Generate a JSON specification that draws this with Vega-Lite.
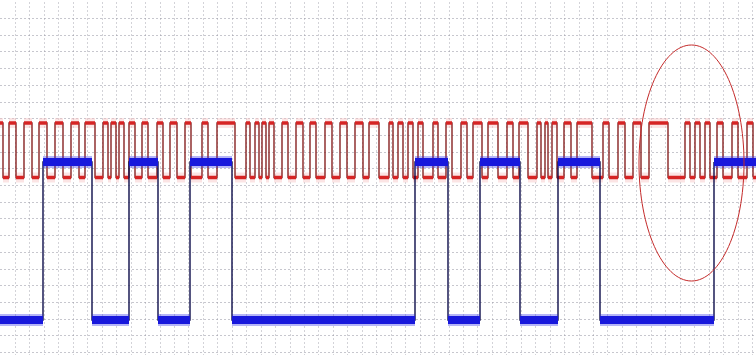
{
  "$schema": "https://vega.github.io/schema/vega-lite/v6.json",
  "width": 756,
  "height": 355,
  "padding": 0,
  "autosize": "none",
  "background": "white",
  "config": {
    "view": {"stroke": null},
    "axisX": {"title": null, "labels": false, "ticks": false, "domain": false, "grid": true, "gridColor": "#a6a6b0", "gridDash": [1, 3], "gridWidth": 1, "minExtent": 0, "maxExtent": 0},
    "axisY": {"title": null, "labels": false, "ticks": false, "domain": false, "grid": true, "gridColor": "#8e8e9c", "gridDash": [1, 3], "gridWidth": 1, "minExtent": 0, "maxExtent": 0}
  },
  "datasets": {
    "red": [
      {"t0": 0, "t1": 3, "v": 123}, {"t0": 3, "t1": 9, "v": 177.5},
      {"t0": 9, "t1": 16, "v": 123}, {"t0": 16, "t1": 24, "v": 177.5},
      {"t0": 24, "t1": 32, "v": 123}, {"t0": 32, "t1": 39, "v": 177.5},
      {"t0": 39, "t1": 47, "v": 123}, {"t0": 47, "t1": 55, "v": 177.5},
      {"t0": 55, "t1": 63, "v": 123}, {"t0": 63, "t1": 71, "v": 177.5},
      {"t0": 71, "t1": 79, "v": 123}, {"t0": 79, "t1": 85, "v": 177.5},
      {"t0": 85, "t1": 95, "v": 123}, {"t0": 95, "t1": 103, "v": 177.5},
      {"t0": 103, "t1": 108, "v": 123}, {"t0": 108, "t1": 111, "v": 177.5},
      {"t0": 111, "t1": 116, "v": 123}, {"t0": 116, "t1": 119, "v": 177.5},
      {"t0": 119, "t1": 124, "v": 123}, {"t0": 124, "t1": 129, "v": 177.5},
      {"t0": 129, "t1": 135, "v": 123}, {"t0": 135, "t1": 142, "v": 177.5},
      {"t0": 142, "t1": 148, "v": 123}, {"t0": 148, "t1": 157, "v": 177.5},
      {"t0": 157, "t1": 163, "v": 123}, {"t0": 163, "t1": 170, "v": 177.5},
      {"t0": 170, "t1": 177, "v": 123}, {"t0": 177, "t1": 185, "v": 177.5},
      {"t0": 185, "t1": 191, "v": 123}, {"t0": 191, "t1": 202, "v": 177.5},
      {"t0": 202, "t1": 208, "v": 123}, {"t0": 208, "t1": 217, "v": 177.5},
      {"t0": 217, "t1": 235, "v": 123}, {"t0": 235, "t1": 246, "v": 177.5},
      {"t0": 246, "t1": 250, "v": 123}, {"t0": 250, "t1": 255, "v": 177.5},
      {"t0": 255, "t1": 259, "v": 123}, {"t0": 259, "t1": 262, "v": 177.5},
      {"t0": 262, "t1": 266, "v": 123}, {"t0": 266, "t1": 269, "v": 177.5},
      {"t0": 269, "t1": 274, "v": 123}, {"t0": 274, "t1": 282, "v": 177.5},
      {"t0": 282, "t1": 288, "v": 123}, {"t0": 288, "t1": 296, "v": 177.5},
      {"t0": 296, "t1": 303, "v": 123}, {"t0": 303, "t1": 310, "v": 177.5},
      {"t0": 310, "t1": 316, "v": 123}, {"t0": 316, "t1": 325, "v": 177.5},
      {"t0": 325, "t1": 332, "v": 123}, {"t0": 332, "t1": 340, "v": 177.5},
      {"t0": 340, "t1": 347, "v": 123}, {"t0": 347, "t1": 355, "v": 177.5},
      {"t0": 355, "t1": 363, "v": 123}, {"t0": 363, "t1": 369, "v": 177.5},
      {"t0": 369, "t1": 379, "v": 123}, {"t0": 379, "t1": 389, "v": 177.5},
      {"t0": 389, "t1": 393, "v": 123}, {"t0": 393, "t1": 398, "v": 177.5},
      {"t0": 398, "t1": 403, "v": 123}, {"t0": 403, "t1": 408, "v": 177.5},
      {"t0": 408, "t1": 413, "v": 123}, {"t0": 413, "t1": 418, "v": 177.5},
      {"t0": 418, "t1": 423, "v": 123}, {"t0": 423, "t1": 433, "v": 177.5},
      {"t0": 433, "t1": 438, "v": 123}, {"t0": 438, "t1": 446, "v": 177.5},
      {"t0": 446, "t1": 452, "v": 123}, {"t0": 452, "t1": 461, "v": 177.5},
      {"t0": 461, "t1": 467, "v": 123}, {"t0": 467, "t1": 473, "v": 177.5},
      {"t0": 473, "t1": 482, "v": 123}, {"t0": 482, "t1": 488, "v": 177.5},
      {"t0": 488, "t1": 498, "v": 123}, {"t0": 498, "t1": 507, "v": 177.5},
      {"t0": 507, "t1": 513, "v": 123}, {"t0": 513, "t1": 519, "v": 177.5},
      {"t0": 519, "t1": 528, "v": 123}, {"t0": 528, "t1": 537, "v": 177.5},
      {"t0": 537, "t1": 541, "v": 123}, {"t0": 541, "t1": 545, "v": 177.5},
      {"t0": 545, "t1": 548, "v": 123}, {"t0": 548, "t1": 552, "v": 177.5},
      {"t0": 552, "t1": 557, "v": 123}, {"t0": 557, "t1": 564, "v": 177.5},
      {"t0": 564, "t1": 571, "v": 123}, {"t0": 571, "t1": 577, "v": 177.5},
      {"t0": 577, "t1": 592, "v": 123}, {"t0": 592, "t1": 603, "v": 177.5},
      {"t0": 603, "t1": 609, "v": 123}, {"t0": 609, "t1": 618, "v": 177.5},
      {"t0": 618, "t1": 625, "v": 123}, {"t0": 625, "t1": 633, "v": 177.5},
      {"t0": 633, "t1": 641, "v": 123}, {"t0": 641, "t1": 649, "v": 177.5},
      {"t0": 649, "t1": 668, "v": 123}, {"t0": 668, "t1": 685, "v": 177.5},
      {"t0": 685, "t1": 690, "v": 123}, {"t0": 690, "t1": 695, "v": 177.5},
      {"t0": 695, "t1": 700, "v": 123}, {"t0": 700, "t1": 705, "v": 177.5},
      {"t0": 705, "t1": 710, "v": 123}, {"t0": 710, "t1": 717, "v": 177.5},
      {"t0": 717, "t1": 723, "v": 123}, {"t0": 723, "t1": 732, "v": 177.5},
      {"t0": 732, "t1": 738, "v": 123}, {"t0": 738, "t1": 747, "v": 177.5},
      {"t0": 747, "t1": 753, "v": 123}, {"t0": 753, "t1": 756, "v": 177.5}
    ],
    "blue": [
      {"t0": 0, "t1": 43, "v": 320}, {"t0": 43, "t1": 92, "v": 162},
      {"t0": 92, "t1": 129, "v": 320}, {"t0": 129, "t1": 158, "v": 162},
      {"t0": 158, "t1": 190, "v": 320}, {"t0": 190, "t1": 232, "v": 162},
      {"t0": 232, "t1": 415, "v": 320}, {"t0": 415, "t1": 448, "v": 162},
      {"t0": 448, "t1": 480, "v": 320}, {"t0": 480, "t1": 520, "v": 162},
      {"t0": 520, "t1": 558, "v": 320}, {"t0": 558, "t1": 600, "v": 162},
      {"t0": 600, "t1": 714, "v": 320}, {"t0": 714, "t1": 756, "v": 162}
    ],
    "ellipse": [
      {"t0": 691.5, "v": 163}
    ]
  },
  "encoding": {
    "x": {"field": "t0", "type": "quantitative", "scale": {"domain": [0, 756], "nice": false, "zero": false},
          "axis": {"values": [15, 29.45, 43.9, 58.35, 72.8, 87.25, 101.7, 116.15, 130.6, 145.05, 159.5, 173.95, 188.4, 202.85, 217.3, 231.75, 246.2, 260.65, 275.1, 289.55, 304, 318.45, 332.9, 347.35, 361.8, 376.25, 390.7, 405.15, 419.6, 434.05, 448.5, 462.95, 477.4, 491.85, 506.3, 520.75, 535.2, 549.65, 564.1, 578.55, 593, 607.45, 621.9, 636.35, 650.8, 665.25, 679.7, 694.15, 708.6, 723.05, 737.5, 751.95]}},
    "y": {"field": "v", "type": "quantitative", "scale": {"domain": [0, 355], "reverse": true, "nice": false, "zero": false},
          "axis": {"values": [18, 34.7, 51.4, 68.1, 84.8, 101.5, 118.2, 134.9, 151.6, 168.3, 185, 201.7, 218.4, 235.1, 251.8, 268.5, 285.2, 301.9, 318.6, 335.3, 352]}}
  },
  "layer": [
    {
      "data": {"name": "red"},
      "mark": {"type": "rule", "strokeWidth": 10, "color": "#f6c4c4", "opacity": 0.45},
      "encoding": {"x2": {"field": "t1"}}
    },
    {
      "data": {"name": "red"},
      "mark": {"type": "line", "interpolate": "step-after", "strokeWidth": 1.3, "color": "#7e1212"},
      "encoding": {"order": {"field": "t0"}}
    },
    {
      "data": {"name": "red"},
      "mark": {"type": "rule", "strokeWidth": 3.5, "color": "#d62424"},
      "encoding": {"x2": {"field": "t1"}}
    },
    {
      "data": {"name": "blue"},
      "mark": {"type": "line", "interpolate": "step-after", "strokeWidth": 1.4, "color": "#0e0e4a"},
      "encoding": {"order": {"field": "t0"}}
    },
    {
      "data": {"name": "blue"},
      "mark": {"type": "rule", "strokeWidth": 12, "color": "#2a2ae8", "opacity": 0.35},
      "encoding": {"x2": {"field": "t1"}}
    },
    {
      "data": {"name": "blue"},
      "mark": {"type": "rule", "strokeWidth": 8, "color": "#1818dc"},
      "encoding": {"x2": {"field": "t1"}}
    },
    {
      "data": {"name": "ellipse"},
      "mark": {"type": "point", "filled": false, "shape": "M -0.445 0 A 0.445 1 0 1 0 0.445 0 A 0.445 1 0 1 0 -0.445 0 Z", "size": 55696, "stroke": "#c42a2a", "strokeWidth": 1, "opacity": 1},
      "encoding": {}
    }
  ]
}
